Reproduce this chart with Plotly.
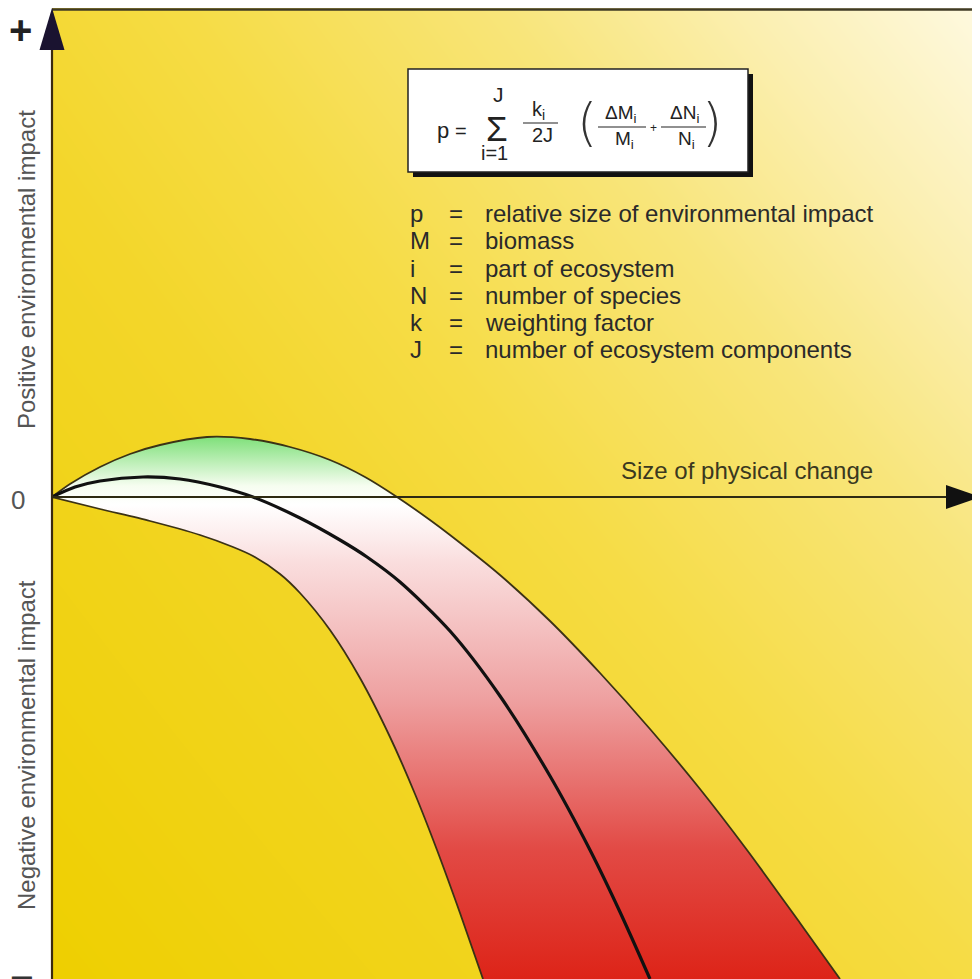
import plotly.graph_objects as go

# ---------------- data (pixel-based units) ----------------
# x = horizontal distance from the origin, y = height above the "0" line
upper_x = [0, 18, 48, 78, 108, 155, 198, 238, 278, 313, 345, 378, 398, 448, 498, 548, 598, 648, 695, 748, 788]
upper_y = [0, 13, 30, 43, 52, 60, 58, 50, 37, 20, 0, -23, -38, -78, -124, -176, -232, -292, -353, -426, -482]

middle_x = [0, 23, 48, 91, 128, 168, 201, 248, 288, 315, 348, 398, 448, 498, 538, 568, 598]
middle_y = [0, 10, 16, 20, 18, 10, 0, -21, -43, -60, -85, -134, -199, -279, -353, -415, -482]

lower_x = [0, 48, 98, 148, 181, 201, 228, 248, 278, 308, 338, 363, 385, 408, 431]
lower_y = [0, -12, -24, -38, -50, -59, -77, -96, -133, -181, -240, -297, -353, -416, -482]

formula_symbols = ["p", "M", "i", "N", "k", "J"]
formula_terms = ["relative size of environmental impact", "biomass", "part of ecosystem",
                 "number of species", "weighting factor", "number of ecosystem components"]

x_label = "Size of physical change"
y_label_pos = "Positive environmental impact"
y_label_neg = "Negative environmental impact"

# ---------------- layout helpers (page pixels; the page body has an 8px margin) ----------------
PAGE_OFF = 8
W, H = 980 - PAGE_OFF, 979 - PAGE_OFF
X0_PX, Y0_PX = 52, 497          # origin of the diagram on the page
TOP_PX, BOT_PX, RIGHT_PX = 8, 979, 980
XMAX = RIGHT_PX - X0_PX
YTOP = Y0_PX - TOP_PX
YBOT = Y0_PX - BOT_PX


def X(px):
    return px - X0_PX


def Y(py):
    return Y0_PX - py


def PX(px):
    return (px - X0_PX) / XMAX


def PY(py):
    return (BOT_PX - py) / (YTOP - YBOT)


FONT = "Liberation Sans, Arial, sans-serif"
SPLINE = dict(shape="spline", smoothing=0.8)

fig = go.Figure()

# background gradient (deep yellow bottom-left -> pale cream top-right)
fig.add_trace(go.Heatmap(
    x=[0, XMAX], y=[YBOT, YTOP], z=[[0.0, 0.5], [0.42, 1.0]],
    zmin=0, zmax=1, zsmooth="best", showscale=False, hoverinfo="skip",
    colorscale=[[0, "#eecf00"], [0.35, "#f3d62a"], [0.5, "#f6dc45"], [0.7, "#f8e57a"],
                [0.85, "#fbefb0"], [1, "#fef9e0"]],
))

# band between the lower and the upper bound, filled with a vertical gradient
fig.add_trace(go.Scatter(x=lower_x, y=lower_y, mode="lines", hoverinfo="skip",
                         line=dict(width=0, color="rgba(0,0,0,0)", **SPLINE)))
fig.add_trace(go.Scatter(
    x=upper_x, y=upper_y, mode="lines", fill="tonexty", hoverinfo="skip",
    line=dict(width=0, color="rgba(0,0,0,0)", **SPLINE),
    fillgradient=dict(type="vertical", start=YBOT, stop=60,
                      colorscale=[[0, "#dd2418"], [0.24, "#e24a45"], [0.515, "#eea0a0"],
                                  [0.77, "#fadede"], [0.875, "#ffffff"], [0.91, "#f6fdf0"],
                                  [1, "#7fe07a"]]),
))

# the three curves
for xs, ys, w, c in [(upper_x, upper_y, 1.8, "#3b3215"), (lower_x, lower_y, 1.8, "#3b3215"),
                     (middle_x, middle_y, 3.2, "#111111")]:
    fig.add_trace(go.Scatter(x=xs, y=ys, mode="lines", hoverinfo="skip",
                             line=dict(color=c, width=w, **SPLINE)))

shapes = []
# top border
shapes.append(dict(type="line", xref="paper", yref="paper", x0=0, x1=1, y0=PY(9.5), y1=PY(9.5),
                   line=dict(color="#3f3a25", width=2.5)))
# y axis line + arrow
shapes.append(dict(type="line", xref="paper", yref="paper", x0=0, x1=0, y0=0, y1=PY(45),
                   line=dict(color="#3a2a10", width=2.2)))
shapes.append(dict(type="path", xref="paper", yref="paper",
                   path=f"M {PX(52)} {PY(8)} L {PX(39.5)} {PY(50)} L {PX(64.5)} {PY(50)} Z",
                   fillcolor="#1a1330", line=dict(width=0)))
# x axis line + arrow
shapes.append(dict(type="line", xref="paper", yref="paper", x0=0, x1=PX(950), y0=PY(497), y1=PY(497),
                   line=dict(color="#2e2a12", width=2)))
shapes.append(dict(type="path", xref="paper", yref="paper",
                   path=f"M {PX(981)} {PY(497)} L {PX(946)} {PY(485)} L {PX(946)} {PY(509)} Z",
                   fillcolor="#111111", line=dict(width=0)))
# formula box with drop shadow
shapes.append(dict(type="rect", xref="x", yref="y", x0=X(413), x1=X(753), y0=Y(177), y1=Y(74),
                   fillcolor="#111111", line=dict(width=0)))
shapes.append(dict(type="rect", xref="x", yref="y", x0=X(408), x1=X(748), y0=Y(172), y1=Y(69),
                   fillcolor="white", line=dict(color="#222222", width=1.5)))
# fraction bars
for a, b, yy in [(523, 558, 123), (598, 646, 127), (661, 706, 127)]:
    shapes.append(dict(type="line", xref="x", yref="y", x0=X(a), x1=X(b), y0=Y(yy), y1=Y(yy),
                       line=dict(color="#222222", width=1.2)))

ann = []


def txt(text, px, py, size, color="#222222", xanchor="center", textangle=0, weight="normal",
        margin=False, family=FONT):
    if margin:
        pos = dict(x=PX(px), y=PY(py), xref="paper", yref="paper")
    else:
        pos = dict(x=X(px), y=Y(py), xref="x", yref="y")
    ann.append(dict(text=text, showarrow=False, xanchor=xanchor, yanchor="middle",
                    textangle=textangle,
                    font=dict(family=family, size=size, color=color, weight=weight), **pos))


# formula
txt("p", 443, 130, 22)
txt("=", 461, 131, 20)
txt("Σ", 497, 128, 35)
txt("J", 498, 94, 21)
txt("i=1", 494, 153, 20)
txt("k<sub>i</sub>", 538, 110, 20)
txt("2J", 542, 135, 20)
txt("(", 587, 122, 52, "#333333", family="DejaVu Sans, Liberation Sans, sans-serif", weight=200)
txt(")", 712, 122, 52, "#333333", family="DejaVu Sans, Liberation Sans, sans-serif", weight=200)
txt("ΔM<sub>i</sub>", 621, 114, 19)
txt("M<sub>i</sub>", 624, 140, 19)
txt("+", 653, 128, 12)
txt("ΔN<sub>i</sub>", 684, 114, 19)
txt("N<sub>i</sub>", 686, 140, 19)

# legend of symbols
rows_y = [213, 240, 268, 295, 322, 349]
for s, d, ry in zip(formula_symbols, formula_terms, rows_y):
    txt(s, 408, ry, 24, "#2a2a2a", xanchor="left")
    txt("=", 456, ry, 24, "#2a2a2a")
    txt(d, 483, ry, 24, "#2a2a2a", xanchor="left")

# axis texts
txt(x_label, 747, 470, 24, "#3a3820")
txt(y_label_pos, 26, 270, 24, "#555555", textangle=-90, margin=True)
txt(y_label_neg, 26, 745, 24, "#555555", textangle=-90, margin=True)
txt("0", 18, 500, 26, "#555555", margin=True)
txt("+", 20, 30, 40, "#222222", weight="bold", margin=True)
txt("−", 21, 978, 40, "#333333", weight="bold", margin=True)

fig.update_layout(
    width=W, height=H, margin=dict(l=X0_PX - PAGE_OFF, r=0, t=TOP_PX - PAGE_OFF, b=0),
    paper_bgcolor="white", plot_bgcolor="white", showlegend=False,
    xaxis=dict(range=[0, XMAX], visible=False, fixedrange=True),
    yaxis=dict(range=[YBOT, YTOP], visible=False, fixedrange=True),
    shapes=shapes, annotations=ann,
)

fig.write_html("out.html")
